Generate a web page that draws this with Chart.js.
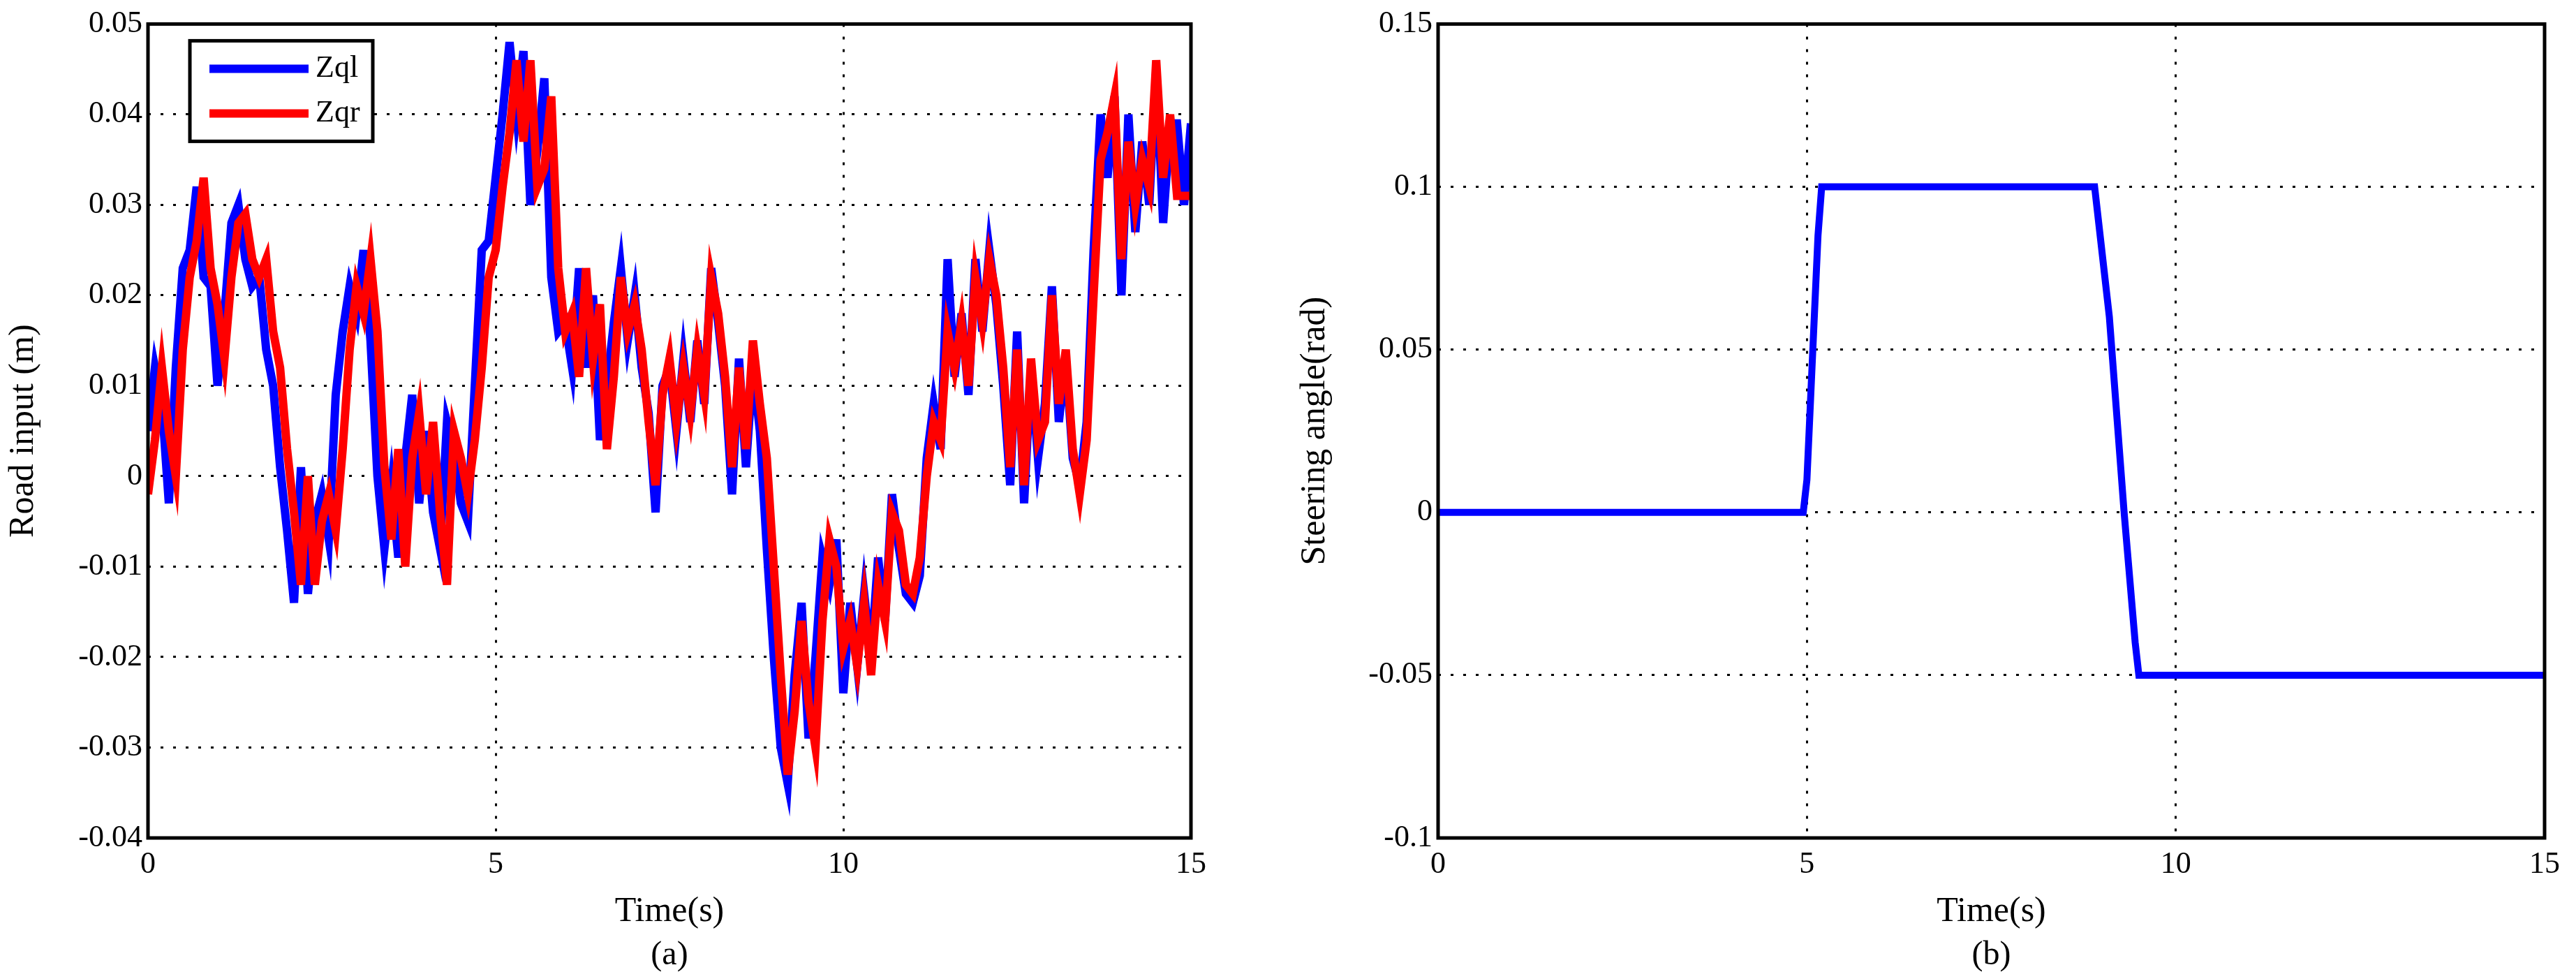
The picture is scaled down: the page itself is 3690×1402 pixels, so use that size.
<!DOCTYPE html>
<html>
<head>
<meta charset="utf-8">
<script src="https://cdn.jsdelivr.net/npm/chart.js@4/dist/chart.umd.min.js"></script>
<style>
  body { margin: 0; background: #fff; width: 3690px; height: 1402px; overflow: hidden; }
  .box { position: absolute; top: 0; height: 1402px; }
</style>
</head>
<body>
<div class="box" style="left:0;width:1740px"><canvas id="graficoA"></canvas></div>
<div class="box" style="left:1850px;width:1840px"><canvas id="graficoB"></canvas></div>
<script>
const tempo = [];
for (let i = 0; i <= 150; i++) tempo.push(+(i * 0.1).toFixed(1));

const zql = [0.005, 0.012, 0.008, -0.003, 0.012, 0.023, 0.025, 0.032, 0.022, 0.021,
  0.010, 0.018, 0.028, 0.030, 0.024, 0.021, 0.022, 0.014, 0.010, 0.001,
  -0.006, -0.014, 0.001, -0.013, -0.005, -0.002, -0.007, 0.009, 0.016, 0.021,
  0.018, 0.025, 0.015, 0.000, -0.008, -0.001, -0.009, 0.002, 0.009, -0.003,
  0.005, -0.004, -0.008, 0.006, 0.003, -0.003, -0.005, 0.010, 0.025, 0.026,
  0.033, 0.040, 0.048, 0.040, 0.047, 0.030, 0.036, 0.044, 0.022, 0.016,
  0.017, 0.012, 0.023, 0.012, 0.020, 0.004, 0.010, 0.017, 0.023, 0.015,
  0.020, 0.012, 0.007, -0.004, 0.010, 0.012, 0.005, 0.013, 0.006, 0.015,
  0.008, 0.023, 0.017, 0.010, -0.002, 0.013, 0.001, 0.012, 0.005, -0.008,
  -0.020, -0.030, -0.034, -0.022, -0.014, -0.029, -0.020, -0.009, -0.012, -0.007,
  -0.024, -0.014, -0.021, -0.013, -0.020, -0.009, -0.016, -0.002, -0.008, -0.013,
  -0.014, -0.011, 0.002, 0.008, 0.003, 0.024, 0.011, 0.018, 0.009, 0.024,
  0.016, 0.025, 0.019, 0.010, -0.001, 0.016, -0.003, 0.012, 0.002, 0.008,
  0.021, 0.006, 0.013, 0.002, -0.001, 0.006, 0.025, 0.040, 0.033, 0.042,
  0.020, 0.040, 0.027, 0.037, 0.030, 0.045, 0.028, 0.039, 0.039, 0.030, 0.039];

const zqr = [-0.002, 0.004, 0.012, 0.005, 0.000, 0.014, 0.022, 0.026, 0.033, 0.023,
  0.019, 0.013, 0.022, 0.028, 0.029, 0.024, 0.022, 0.024, 0.016, 0.012,
  0.003, -0.004, -0.012, 0.000, -0.012, -0.005, -0.002, -0.006, 0.003, 0.014,
  0.021, 0.018, 0.024, 0.016, 0.001, -0.007, 0.003, -0.010, 0.002, 0.007,
  -0.002, 0.006, -0.004, -0.012, 0.005, 0.002, -0.002, 0.004, 0.012, 0.022,
  0.025, 0.032, 0.038, 0.046, 0.037, 0.046, 0.032, 0.034, 0.042, 0.023,
  0.016, 0.018, 0.011, 0.023, 0.013, 0.019, 0.003, 0.011, 0.022, 0.016,
  0.019, 0.014, 0.006, -0.001, 0.009, 0.013, 0.006, 0.012, 0.007, 0.014,
  0.009, 0.022, 0.018, 0.011, 0.001, 0.012, 0.003, 0.015, 0.008, 0.002,
  -0.010, -0.022, -0.033, -0.026, -0.016, -0.025, -0.030, -0.016, -0.007, -0.010,
  -0.019, -0.016, -0.021, -0.014, -0.022, -0.012, -0.016, -0.004, -0.006, -0.012,
  -0.013, -0.009, 0.000, 0.006, 0.004, 0.016, 0.012, 0.017, 0.010, 0.022,
  0.017, 0.024, 0.020, 0.012, 0.001, 0.014, -0.001, 0.013, 0.004, 0.006,
  0.020, 0.008, 0.014, 0.003, -0.002, 0.004, 0.020, 0.035, 0.038, 0.042,
  0.024, 0.037, 0.030, 0.035, 0.032, 0.046, 0.033, 0.040, 0.031, 0.031, 0.031];

const tempoDirecao = [0, 4.95, 5.0, 5.05, 5.1, 5.15, 5.2, 8.9, 8.95, 9.1, 9.3, 9.45, 9.5, 15];
const anguloDirecao = [0, 0, 0.01, 0.035, 0.06, 0.085, 0.1, 0.1, 0.09, 0.06, 0.0, -0.04, -0.05, -0.05];

const ticksX = [0, 5, 10, 15];
const ticksYA = ['-0.04', '-0.03', '-0.02', '-0.01', '0', '0.01', '0.02', '0.03', '0.04', '0.05'];
const ticksYB = ['-0.1', '-0.05', '0', '0.05', '0.1', '0.15'];

const fonte = 'Liberation Serif';

function pares(xs, ys) {
  return xs.map((x, i) => ({ x: x, y: ys[i] }));
}

const caixaPlugin = {
  id: 'caixa',
  afterDraw(chart, args, opts) {
    const c = chart.ctx;
    const a = chart.chartArea;
    c.save();
    c.strokeStyle = '#000';
    c.lineWidth = 5;
    c.strokeRect(a.left, a.top, a.right - a.left, a.bottom - a.top);
    c.fillStyle = '#000';
    c.font = '48px "' + fonte + '"';
    c.textAlign = 'center';
    c.textBaseline = 'middle';
    c.fillText(opts.legenda, (a.left + a.right) / 2, 1368);
    if (opts.itens) {
      const x0 = a.left + 60, y0 = a.top + 24;
      c.fillStyle = '#fff';
      c.fillRect(x0, y0, 262, 144);
      c.strokeRect(x0, y0, 262, 144);
      opts.itens.forEach((it, i) => {
        const y = y0 + 40 + i * 64;
        c.strokeStyle = it.cor;
        c.lineWidth = 12;
        c.beginPath();
        c.moveTo(x0 + 28, y);
        c.lineTo(x0 + 170, y);
        c.stroke();
        c.fillStyle = '#000';
        c.textAlign = 'left';
        c.font = '44px "' + fonte + '"';
        c.fillText(it.nome, x0 + 180, y);
      });
    }
    c.restore();
  }
};

function opcoesEixos(minY, maxY, rotulosY, tituloY, larguraY) {
  return {
    x: {
      type: 'linear', min: 0, max: 15,
      afterBuildTicks: ax => { ax.ticks = ticksX.map(v => ({ value: v })); },
      afterFit: ax => { ax.height = 140; },
      grid: { color: '#000', lineWidth: 3, drawTicks: false },
      border: { display: false, dash: [4, 14] },
      ticks: { color: '#000', font: { family: fonte, size: 44 }, padding: 12, maxRotation: 0 },
      title: { display: true, text: 'Time(s)', color: '#000', font: { family: fonte, size: 50 }, padding: { top: 0 } }
    },
    y: {
      min: minY, max: maxY,
      afterBuildTicks: ax => {
        ax.ticks = rotulosY.map(s => ({ value: parseFloat(s) }));
      },
      afterFit: ax => { ax.width = larguraY; },
      grid: { color: '#000', lineWidth: 3, drawTicks: false },
      border: { display: false, dash: [4, 14] },
      ticks: {
        color: '#000', font: { family: fonte, size: 44 }, padding: 8,
        callback: (v) => rotulosY.find(s => Math.abs(parseFloat(s) - v) < 1e-9) || ''
      },
      title: { display: true, text: tituloY, color: '#000', font: { family: fonte, size: 50 } }
    }
  };
}

function desenhaGraficoA() {
  const ctx = document.getElementById('graficoA').getContext('2d');
  new Chart(ctx, {
    type: 'line',
    data: {
      datasets: [
        { label: 'Zqr', data: pares(tempo, zqr), borderColor: '#ff0000', borderWidth: 12, pointRadius: 0, tension: 0, order: 1 },
        { label: 'Zql', data: pares(tempo, zql), borderColor: '#0000ff', borderWidth: 12, pointRadius: 0, tension: 0, order: 2 }
      ]
    },
    options: {
      responsive: true, maintainAspectRatio: false, animation: false,
      layout: { padding: { top: 34, right: 30, bottom: 62, left: 0 } },
      plugins: {
        legend: { display: false }, tooltip: { enabled: false },
        caixa: { legenda: '(a)', itens: [{ nome: 'Zql', cor: '#0000ff' }, { nome: 'Zqr', cor: '#ff0000' }] }
      },
      scales: opcoesEixos(-0.04, 0.05, ticksYA, 'Road input (m)', 212)
    },
    plugins: [caixaPlugin]
  });
}

function desenhaGraficoB() {
  const ctx = document.getElementById('graficoB').getContext('2d');
  new Chart(ctx, {
    type: 'line',
    data: {
      datasets: [
        { label: 'Steering', data: pares(tempoDirecao, anguloDirecao), borderColor: '#0000ff', borderWidth: 10, pointRadius: 0, tension: 0 }
      ]
    },
    options: {
      responsive: true, maintainAspectRatio: false, animation: false,
      layout: { padding: { top: 34, right: 45, bottom: 62, left: 0 } },
      plugins: {
        legend: { display: false }, tooltip: { enabled: false },
        caixa: { legenda: '(b)' }
      },
      scales: opcoesEixos(-0.1, 0.15, ticksYB, 'Steering angle(rad)', 210)
    },
    plugins: [caixaPlugin]
  });
}

// grid pontilhado em todas as escalas
Chart.register({
  id: 'pontilhado',
  beforeDraw(chart) {
    Object.values(chart.scales).forEach(s => { s.options.grid.borderDash = [4, 14]; });
  }
});

window.addEventListener('load', () => {
  desenhaGraficoA();
  desenhaGraficoB();
});
</script>
</body>
</html>
